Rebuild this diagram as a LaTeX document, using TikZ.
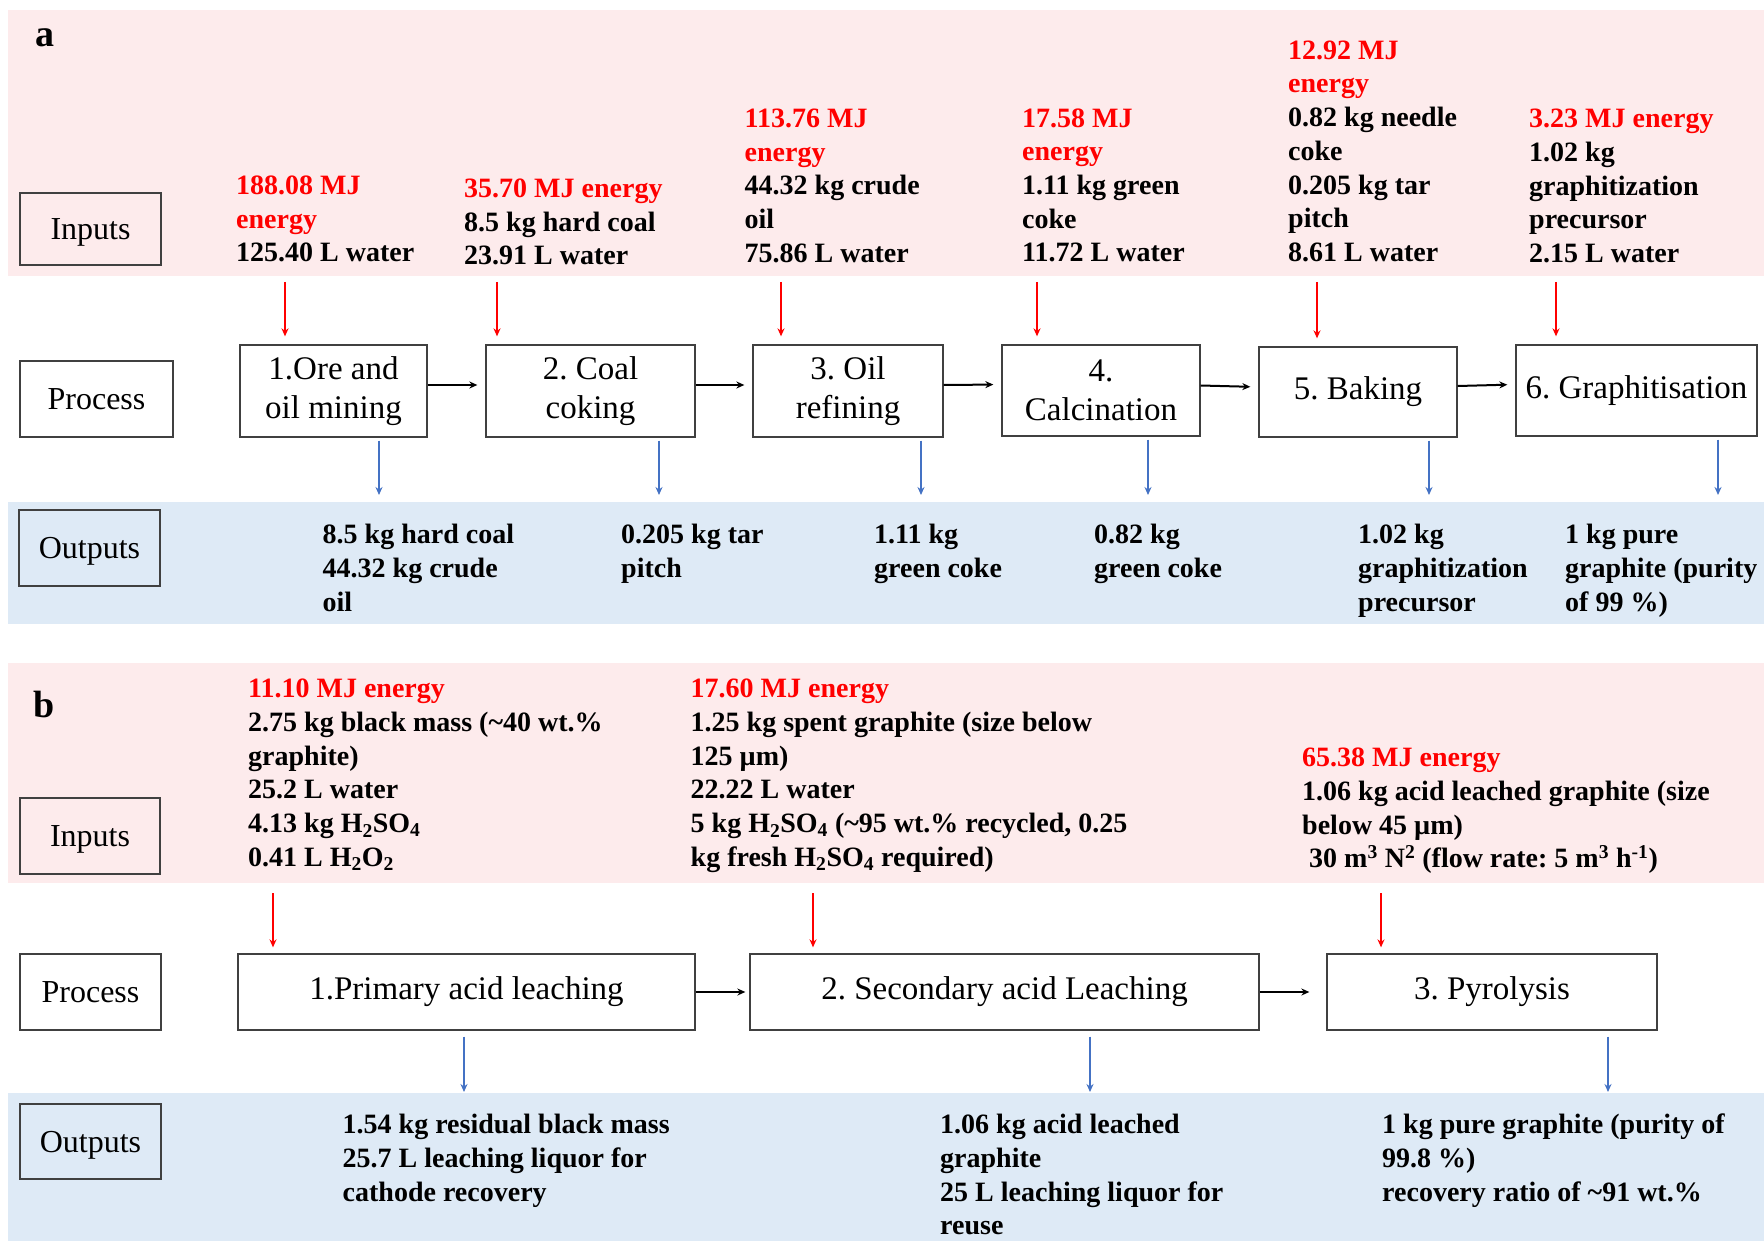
\documentclass[tikz,border=0pt]{standalone}
\usepackage{fontspec}
\setmainfont{Liberation Serif}
\usetikzlibrary{arrows.meta}

\definecolor{inpink}{RGB}{253,235,236}
\definecolor{outblue}{RGB}{222,234,246}
\definecolor{enred}{RGB}{255,0,0}
\definecolor{arblue}{RGB}{68,114,196}

\begin{document}
\frenchspacing
\begin{tikzpicture}[
	x = 1pt, y = -1pt, % pixel grid, y pointing down
	> = {Stealth[length=8pt, width=7pt]}, % arrow head style
	L/.style={draw=black!75, line width=1.3pt, minimum width=141pt, minimum height=76pt, inner sep=0pt, text height=21.5pt, text depth=0pt, font=\fontsize{32}{39}\selectfont},
	P/.style={draw=black!75, line width=1.3pt, fill=white, align=center, inner sep=0pt, font=\fontsize{33}{39}\selectfont},
	T/.style={anchor=north west, align=left, inner sep=0pt, font=\fontsize{28}{33.7}\selectfont\bfseries},
	H/.style={anchor=base west, inner sep=0pt, font=\fontsize{38}{40}\selectfont\bfseries},
	flow/.style={->, line width=2pt, shorten >=8pt},
	inflow/.style={->, color=enred, line width=1.5pt},
	outflow/.style={->, color=arblue, line width=1.5pt},
	]

	\useasboundingbox (0,0) rectangle (1764,1241);
	\fill[white] (0,0) rectangle (1764,1241);

	% Bands
	\fill[inpink]  (8,10)    rectangle (1764,276);
	\fill[outblue] (8,502)   rectangle (1764,624);
	\fill[inpink]  (8,663)   rectangle (1764,883);
	\fill[outblue] (8,1093)  rectangle (1764,1241);

	%%%%%%%%%%%%%%%% panel a %%%%%%%%%%%%%%%%
	\node[H] (a) at (35,47) {a};

	% Row labels
	\node[L, minimum height=72pt] (inA)   at (90.5,229) {Inputs};
	\node[L, minimum width=153pt] (procA) at (96.5,399) {Process};
	\node[L]                      (outA)  at (89.5,548) {Outputs};

	% Process steps
	\node[P, minimum width=187pt, minimum height=92pt] (p1) at (333.5,391) {1.Ore and\\oil mining};
	\node[P, minimum width=209pt, minimum height=92pt] (p2) at (590.5,391) {2. Coal\\coking};
	\node[P, minimum width=190pt, minimum height=92pt] (p3) at (848,391)   {3. Oil\\refining};
	\node[P, minimum width=198pt, minimum height=91pt] (p4) at (1101,390.5) {4.\\Calcination};
	\node[P, minimum width=198pt, minimum height=90pt] (p5) at (1358,392)  {5. Baking};
	\node[P, minimum width=241pt, minimum height=91pt] (p6) at (1636.5,390.5) {6. Graphitisation};

	% Inputs
	\node[T] (t1) at (236,175.5) {\textcolor{enred}{188.08 MJ}\\\textcolor{enred}{energy}\\125.40 L water};
	\node[T] (t2) at (464,178.5) {\textcolor{enred}{35.70 MJ energy}\\8.5 kg hard coal\\23.91 L water};
	\node[T] (t3) at (744.5,108.7) {\textcolor{enred}{113.76 MJ}\\\textcolor{enred}{energy}\\44.32 kg crude\\oil\\75.86 L water};
	\node[T] (t4) at (1022,108.3) {\textcolor{enred}{17.58 MJ}\\\textcolor{enred}{energy}\\1.11 kg green\\coke\\11.72 L water};
	\node[T] (t5) at (1288,40.5) {\textcolor{enred}{12.92 MJ}\\\textcolor{enred}{energy}\\0.82 kg needle\\coke\\0.205 kg tar\\pitch\\8.61 L water};
	\node[T] (t6) at (1529,109) {\textcolor{enred}{3.23 MJ energy}\\1.02 kg\\graphitization\\precursor\\2.15 L water};

	% Outputs
	\node[T] (o1) at (322.5,524) {8.5 kg hard coal\\44.32 kg crude\\oil};
	\node[T] (o2) at (621,524)   {0.205 kg tar\\pitch};
	\node[T] (o3) at (874,524)   {1.11 kg\\green coke};
	\node[T] (o4) at (1094,524)  {0.82 kg\\green coke};
	\node[T] (o5) at (1358,524)  {1.02 kg\\graphitization\\precursor};
	\node[T] (o6) at (1565,524)  {1 kg pure\\graphite (purity\\of 99 \%)};

	% Arrow ends
	\coordinate (ia1) at (285,282);
	\coordinate (ia2) at (497,282);
	\coordinate (ia3) at (781,282);
	\coordinate (ia4) at (1037,282);
	\coordinate (ia5) at (1317,282);
	\coordinate (ia6) at (1556,282);
	\coordinate (oa1) at (379,495);
	\coordinate (oa2) at (659,495);
	\coordinate (oa3) at (921,495);
	\coordinate (oa4) at (1148,495);
	\coordinate (oa5) at (1429,495);
	\coordinate (oa6) at (1718,495);

	% Paths connecting nodes
	\path[flow] ([yshift=6pt]p1.east) edge ([yshift=6pt]p2.west);
	\path[flow] ([yshift=6pt]p2.east) edge ([yshift=6pt]p3.west);
	\path[flow] ([yshift=6pt]p3.east) edge ([yshift=6pt]p4.west);
	\path[flow] ([yshift=5pt]p4.east) edge ([yshift=5pt]p5.west);
	\path[flow] ([yshift=6pt]p5.east) edge ([yshift=6pt]p6.west);

	\foreach \i in {1,...,6} {
		\path[inflow, shorten >=8pt] (ia\i) edge (ia\i |- p\i.north);
		\path[outflow, shorten <=3pt] (oa\i |- p\i.south) edge (oa\i);
	}

	%%%%%%%%%%%%%%%% panel b %%%%%%%%%%%%%%%%
	\node[H] (b) at (33,717) {b};

	% Row labels
	\node[L, minimum width=140pt] (inB)   at (90,836)    {Inputs};
	\node[L]                      (procB) at (90.5,992)  {Process};
	\node[L, minimum height=75pt] (outB)  at (90.5,1141.5) {Outputs};

	% Process steps
	\node[P, minimum width=457pt, minimum height=76pt] (q1) at (466.5,992)  {1.Primary acid leaching};
	\node[P, minimum width=509pt, minimum height=76pt] (q2) at (1004.5,992) {2. Secondary acid Leaching};
	\node[P, minimum width=330pt, minimum height=76pt] (q3) at (1492,992)   {3. Pyrolysis};

	% Inputs
	\node[T] (s1) at (248,679) {\textcolor{enred}{11.10 MJ energy}\\2.75 kg black mass (\textasciitilde40 wt.\%\\graphite)\\25.2 L water\\4.13 kg H\textsubscript{2}SO\textsubscript{4}\\0.41 L H\textsubscript{2}O\textsubscript{2}};
	\node[T] (s2) at (690.5,679) {\textcolor{enred}{17.60 MJ energy}\\1.25 kg spent graphite (size below\\125 µm)\\22.22 L water\\5 kg H\textsubscript{2}SO\textsubscript{4} (\textasciitilde95 wt.\% recycled, 0.25\\kg fresh H\textsubscript{2}SO\textsubscript{4} required)};
	\node[T] (s3) at (1302,748) {\textcolor{enred}{65.38 MJ energy}\\1.06 kg acid leached graphite (size\\below 45 µm)\\\hspace*{7pt}30 m\textsuperscript{3} N\textsuperscript{2} (flow rate: 5 m\textsuperscript{3} h\textsuperscript{-1})};

	% Outputs
	\node[T] (r1) at (342.5,1114) {1.54 kg residual black mass\\25.7 L leaching liquor for\\cathode recovery};
	\node[T] (r2) at (940,1114)   {1.06 kg acid leached\\graphite\\25 L leaching liquor for\\reuse};
	\node[T] (r3) at (1382,1114)  {1 kg pure graphite (purity of\\99.8 \%)\\recovery ratio of \textasciitilde91 wt.\%};

	% Arrow ends
	\coordinate (ib1) at (273,893);
	\coordinate (ib2) at (813,893);
	\coordinate (ib3) at (1381,893);
	\coordinate (ob1) at (464,1092);
	\coordinate (ob2) at (1090,1092);
	\coordinate (ob3) at (1608,1092);

	% Paths connecting nodes
	\path[flow, shorten >=4pt]  (q1) edge (q2);
	\path[flow, shorten >=17pt] (q2) edge (q3);

	\foreach \i in {1,2,3} {
		\path[inflow, shorten >=6pt] (ib\i) edge (ib\i |- q\i.north);
		\path[outflow, shorten <=6pt] (ob\i |- q\i.south) edge (ob\i);
	}

\end{tikzpicture}
\end{document}
